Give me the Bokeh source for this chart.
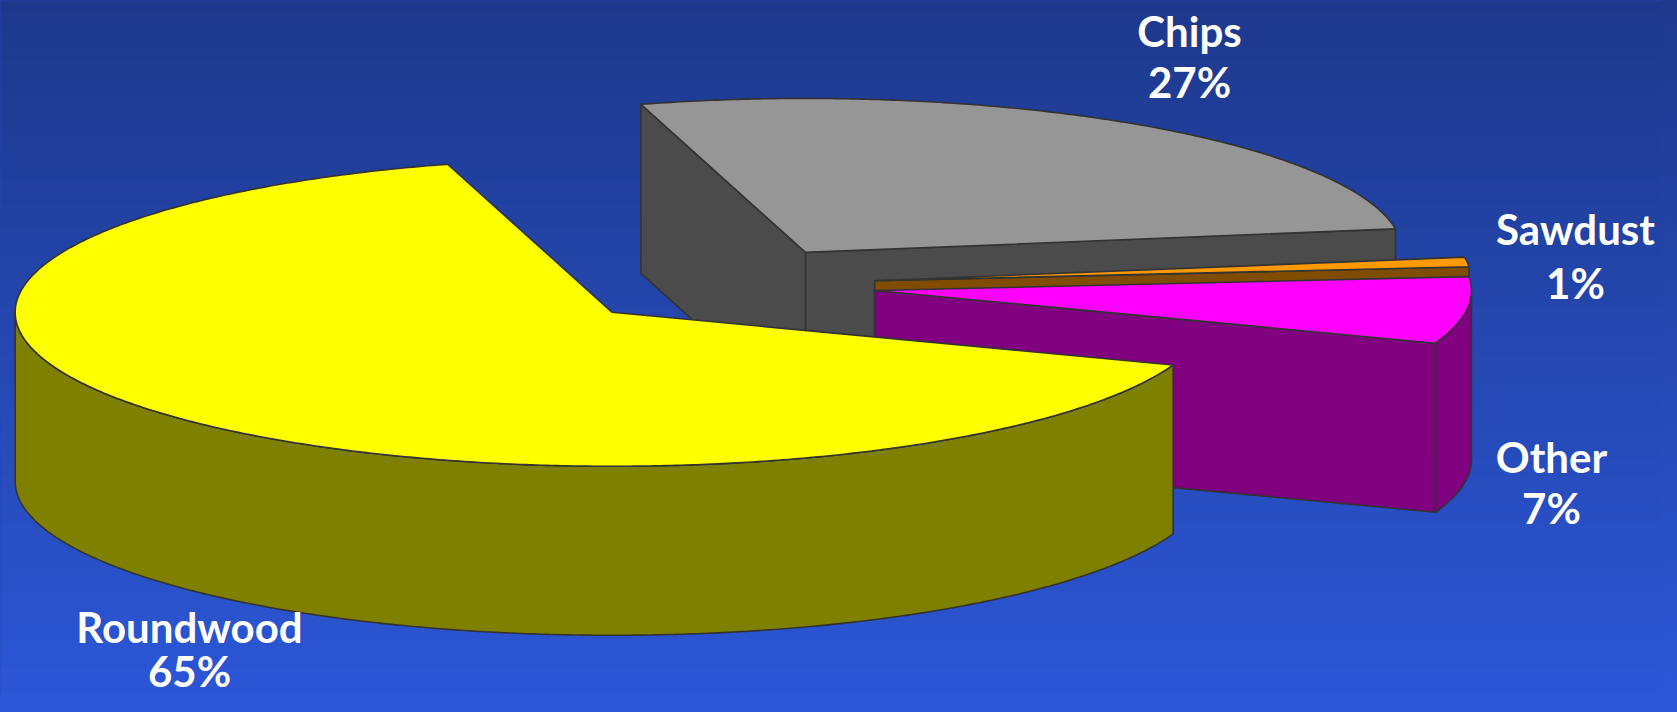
import numpy as np
from bokeh.plotting import figure
from bokeh.models import Range1d
from bokeh.core.properties import value
from bokeh.embed import file_html
from bokeh.resources import INLINE

# ---- data ----
categories = ["Other", "Sawdust", "Chips", "Roundwood"]
shares = [7, 1, 27, 65]
top_colors = ["#FF00FF", "#FF9900", "#969696", "#FFFF00"]
side_colors = ["#800080", "#7F4C00", "#4B4B4B", "#808000"]

# ---- layout (page pixel units) ----
W, H = 1661, 696
CX, CY = 723.0, 285.0      # pie centre
A, B = 597.0, 154.0        # ellipse semi-axes
DEPTH = 169.0              # pie thickness
EXPLODE = 0.255            # explosion as fraction of radius
START = -20.0              # start angle (deg), counter-clockwise
OUTLINE = "#333333"
TOP_BG = np.array([0x1E, 0x39, 0x8C])
BOT_BG = np.array([0x2C, 0x57, 0xD8])
VIEW_H = 712.0

# label anchor: x centre, baseline of name, baseline of percentage
label_pos = {
    "Chips": (1189, 30, 81),
    "Sawdust": (1575, 228, 282),
    "Other": (1551, 456, 507),
    "Roundwood": (189, 626, 670),
}

p = figure(width=W, height=H, output_backend="svg", toolbar_location=None,
           x_range=Range1d(0, W), y_range=Range1d(H, 0),
           min_border=0, min_border_left=0, min_border_right=0,
           min_border_top=0, min_border_bottom=0)
p.axis.visible = False
p.grid.visible = False
p.outline_line_color = None
p.background_fill_color = "#2548B4"
p.border_fill_color = "#2548B4"

# background gradient
n = 120
edges = np.linspace(0, H, n + 1)
cols = []
for i in range(n):
    t = ((edges[i] + edges[i + 1]) / 2) / VIEW_H
    c = (TOP_BG * (1 - t) + BOT_BG * t).astype(int)
    cols.append("#%02x%02x%02x" % tuple(c))
p.quad(left=0, right=W, top=edges[:-1], bottom=edges[1:] + 0.6,
       fill_color=cols, line_color=None)


def pt(ox, oy, deg):
    r = np.radians(deg)
    return ox + A * np.cos(r), oy - B * np.sin(r)


def arc(ox, oy, a0, a1, dy=0.0):
    nn = max(2, int(abs(a1 - a0) * 2) + 2)
    th = np.radians(np.linspace(a0, a1, nn))
    return list(ox + A * np.cos(th)), list(oy - B * np.sin(th) + dy)


# compute slice angles
total = float(sum(shares))
slices = []
a = START
for cat, v, tc, sc in zip(categories, shares, top_colors, side_colors):
    span = 360.0 * v / total
    a0, a1 = a, a + span
    mid = np.radians((a0 + a1) / 2)
    ox = CX + EXPLODE * A * np.cos(mid)
    oy = CY - EXPLODE * B * np.sin(mid)
    slices.append(dict(cat=cat, a0=a0, a1=a1, ox=ox, oy=oy, tc=tc, sc=sc,
                       depth_key=np.sin(mid)))
    a = a1

# back to front
slices.sort(key=lambda s: -s["depth_key"])

for s in slices:
    ox, oy, a0, a1 = s["ox"], s["oy"], s["a0"], s["a1"]
    xs_list, ys_list = [], []
    # radial faces
    if np.cos(np.radians(a0)) > 0:
        x1, y1 = pt(ox, oy, a0)
        xs_list.append([ox, x1, x1, ox])
        ys_list.append([oy, y1, y1 + DEPTH, oy + DEPTH])
    if np.cos(np.radians(a1)) < 0:
        x1, y1 = pt(ox, oy, a1)
        xs_list.append([ox, x1, x1, ox])
        ys_list.append([oy, y1, y1 + DEPTH, oy + DEPTH])
    # outer rim, visible where it faces the viewer
    for k in (-1, 0, 1):
        lo = max(a0, 180 + 360 * k)
        hi = min(a1, 360 + 360 * k)
        if lo < hi:
            tx, ty = arc(ox, oy, lo, hi)
            bx, by = arc(ox, oy, hi, lo, DEPTH)
            xs_list.append(tx + bx)
            ys_list.append(ty + by)
    if xs_list:
        p.patches(xs=xs_list, ys=ys_list, fill_color=s["sc"],
                  line_color=OUTLINE, line_width=1.6, line_join="round")
    # top face
    tx, ty = arc(ox, oy, a0, a1)
    p.patch([ox] + tx, [oy] + ty, fill_color=s["tc"], line_color=OUTLINE,
            line_width=1.6, line_join="round")

# labels
lx, ly, lt = [], [], []
for cat, v in zip(categories, shares):
    x, y1, y2 = label_pos[cat]
    lx += [x, x]
    ly += [y1, y2]
    lt += [cat, "%d%%" % v]
p.text(x=lx, y=ly, text=lt, text_color="white", text_font=value("Lato"),
       text_font_style="bold", text_font_size="42px", text_align="center",
       text_baseline="alphabetic")

html = file_html(p, INLINE)
html = html.replace(
    "<head>",
    "<head><style>html{background:linear-gradient(#1E398C,#2C57D8) fixed;"
    "background-color:#2C57D8;min-height:100%;}body{background:transparent;}</style>",
    1)
open("out.html", "w").write(html)
